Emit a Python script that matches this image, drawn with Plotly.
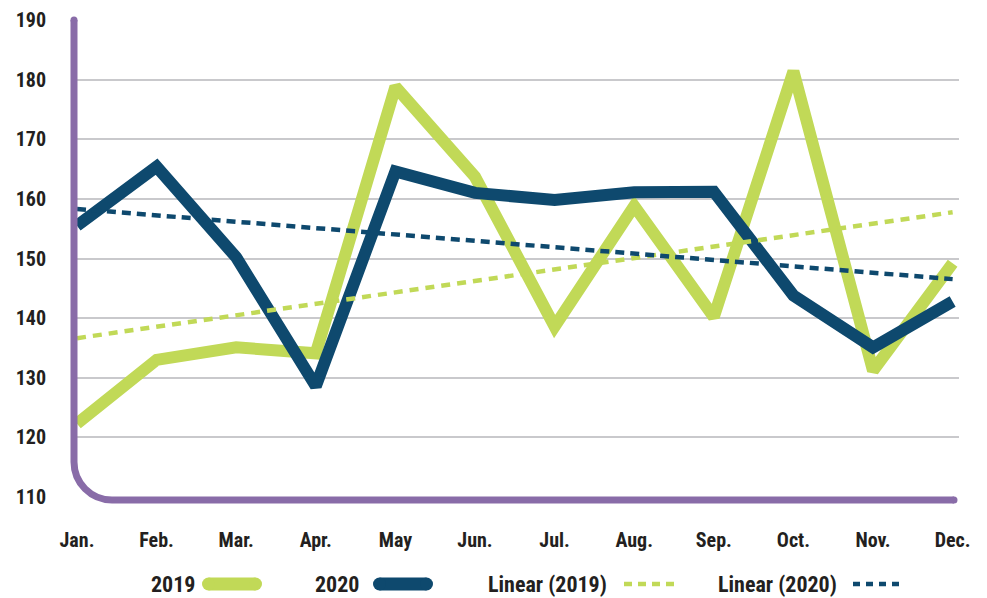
import numpy as np
import plotly.graph_objects as go

months = ["Jan.", "Feb.", "Mar.", "Apr.", "May", "Jun.", "Jul.", "Aug.", "Sep.", "Oct.", "Nov.", "Dec."]
v2019 = [122.3, 133.0, 135.1, 134.1, 178.8, 163.7, 138.6, 158.8, 140.2, 181.4, 131.2, 149.2]
v2020 = [155.5, 165.4, 150.2, 128.6, 164.6, 161.0, 159.8, 161.1, 161.2, 143.8, 135.1, 142.8]
y_ticks = [110, 120, 130, 140, 150, 160, 170, 180, 190]

GREEN = "#c1d957"
NAVY = "#0e496e"
PURPLE = "#896ca8"
TEXT = "#231f20"
FONT = "Roboto Condensed, Liberation Sans, Roboto, sans-serif"

W, H = 987, 598
ML, MR, MT, MB = 77, 28, 20, 598 - 497
PW, PH = W - ML - MR, H - MT - MB


def px(x):
    return (x - ML) / PW


def py(y):
    return (H - MB - y) / PH


xi = np.arange(len(months))
t19 = np.polyval(np.polyfit(xi, v2019, 1), xi)
t20 = np.polyval(np.polyfit(xi, v2020, 1), xi)

fig = go.Figure()
fig.add_trace(go.Scatter(x=xi, y=v2019, mode="lines", name="2019",
                         line=dict(color=GREEN, width=12)))
fig.add_trace(go.Scatter(x=xi, y=v2020, mode="lines", name="2020",
                         line=dict(color=NAVY, width=12)))
fig.add_trace(go.Scatter(x=xi, y=t19, mode="lines", name="Linear (2019)",
                         line=dict(color=GREEN, width=4.5, dash="9px,7px")))
fig.add_trace(go.Scatter(x=xi, y=t20, mode="lines", name="Linear (2020)",
                         line=dict(color=NAVY, width=4.5, dash="9px,6px")))

shapes = []
# purple axis with rounded corner (quarter circle as cubic bezier)
x0, ytop, ybot, xr, rad = 74, 20, 500, 954, 38
k = 0.5523 * rad
path = (f"M {px(x0)},{py(ytop)} L {px(x0)},{py(ybot - rad)} "
        f"C {px(x0)},{py(ybot - rad + k)} {px(x0 + rad - k)},{py(ybot)} {px(x0 + rad)},{py(ybot)} "
        f"L {px(xr)},{py(ybot)}")
shapes.append(dict(type="path", xref="paper", yref="paper", path=path,
                   line=dict(color=PURPLE, width=7), layer="above"))
for cx, cy in [(x0, ytop), (xr, ybot)]:
    shapes.append(dict(type="circle", xref="paper", yref="paper",
                       x0=px(cx - 3.5), x1=px(cx + 3.5), y0=py(cy + 3.5), y1=py(cy - 3.5),
                       fillcolor=PURPLE, line=dict(width=0), layer="above"))

# custom legend (text left of symbol)
LY = 584
legend_items = [
    ("2019", 197, 202, 262, GREEN, None),
    ("2020", 361, 373, 433, NAVY, None),
    ("Linear (2019)", 609, 624, 675, GREEN, "8px,6px"),
    ("Linear (2020)", 839, 853, 903, NAVY, "7px,6px"),
]
annotations = []
for label, tx, sx0, sx1, col, dash in legend_items:
    annotations.append(dict(text=label, x=px(tx), y=py(LY), xref="paper", yref="paper",
                            xanchor="right", yanchor="middle", showarrow=False,
                            font=dict(family=FONT, size=22, color=TEXT, weight="bold")))
    if dash is None:
        r = 6.5
        shapes.append(dict(type="rect", xref="paper", yref="paper",
                           x0=px(sx0 + r), x1=px(sx1 - r), y0=py(LY + r), y1=py(LY - r),
                           fillcolor=col, line=dict(width=0)))
        for cx in (sx0 + r, sx1 - r):
            shapes.append(dict(type="circle", xref="paper", yref="paper",
                               x0=px(cx - r), x1=px(cx + r), y0=py(LY + r), y1=py(LY - r),
                               fillcolor=col, line=dict(width=0)))
    else:
        shapes.append(dict(type="line", xref="paper", yref="paper",
                           x0=px(sx0), x1=px(sx1), y0=py(LY), y1=py(LY),
                           line=dict(color=col, width=4.5, dash=dash)))

fig.update_layout(
    width=W, height=H,
    margin=dict(l=ML, r=MR, t=MT, b=MB, autoexpand=False),
    paper_bgcolor="white", plot_bgcolor="white",
    showlegend=False,
    shapes=shapes, annotations=annotations,
    font=dict(family=FONT, color=TEXT, weight="bold"),
    xaxis=dict(range=[0, 11.08], tickvals=list(xi), ticktext=months,
               showgrid=False, zeroline=False, showline=False, automargin=False,
               ticks="", ticklabelstandoff=29,
               tickfont=dict(family=FONT, size=20, color=TEXT, weight="bold")),
    yaxis=dict(range=[110, 190], tickvals=y_ticks, automargin=False,
               showgrid=True, gridcolor="#c9c9cc", gridwidth=1.5,
               zeroline=False, showline=False, ticks="", ticklabelstandoff=30,
               tickfont=dict(family=FONT, size=20, color=TEXT, weight="bold")),
)

fig.write_html("out.html", config={"displayModeBar": False},
               post_script="document.body.style.margin='0';document.body.style.overflow='hidden';")
